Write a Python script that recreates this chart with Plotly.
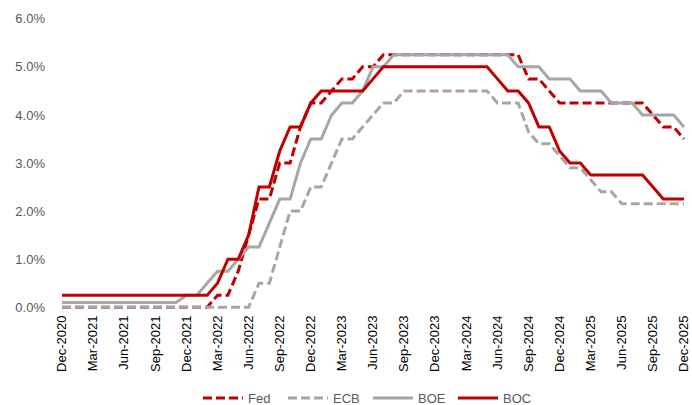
import pandas as pd
import plotly.graph_objects as go

# Month-end policy rates, Dec-2020 .. Dec-2025 (61 months)
months = [d.strftime("%b-%Y") for d in pd.date_range("2020-12-01", "2025-12-01", freq="MS")]

fed = ([0.0] * 15 +
       [0.25, 0.25, 0.75, 1.5, 2.25, 2.25, 3.0, 3.0, 3.75, 4.25, 4.25, 4.5, 4.75, 4.75, 5.0, 5.0] +
       [5.25] * 14 +
       [4.75, 4.75, 4.5] +
       [4.25] * 9 +
       [4.0, 3.75, 3.75, 3.5])

ecb = ([0.0] * 19 +
       [0.5, 0.5, 1.25, 2.0, 2.0, 2.5, 2.5, 3.0, 3.5, 3.5, 3.75, 4.0, 4.25, 4.25] +
       [4.5] * 9 +
       [4.25] * 3 +
       [3.65, 3.4, 3.4, 3.15, 2.9, 2.9, 2.65, 2.4, 2.4] +
       [2.15] * 7)

boe = ([0.1] * 12 +
       [0.25, 0.25, 0.5, 0.75, 0.75, 1.0, 1.25, 1.25, 1.75, 2.25, 2.25, 3.0, 3.5, 3.5, 4.0, 4.25, 4.25, 4.5, 5.0, 5.0] +
       [5.25] * 12 +
       [5.0] * 3 + [4.75] * 3 + [4.5] * 3 + [4.25] * 3 + [4.0] * 4 + [3.75])

boc = ([0.25] * 15 +
       [0.5, 1.0, 1.0, 1.5, 2.5, 2.5, 3.25, 3.75, 3.75, 4.25, 4.5] +
       [4.5] * 4 +
       [4.75] +
       [5.0] * 11 +
       [4.75, 4.5, 4.5, 4.25, 3.75, 3.75, 3.25, 3.0, 3.0] +
       [2.75] * 6 +
       [2.5, 2.25, 2.25, 2.25])

tick_labels = ["Dec-2020", "Mar-2021", "Jun-2021", "Sep-2021", "Dec-2021", "Mar-2022", "Jun-2022",
               "Sep-2022", "Dec-2022", "Mar-2023", "Jun-2023", "Sep-2023", "Dec-2023", "Mar-2024",
               "Jun-2024", "Sep-2024", "Dec-2024", "Mar-2025", "Jun-2025", "Sep-2025", "Dec-2025"]
y_ticks = [0, 1, 2, 3, 4, 5, 6]

RED = "#C00000"
GRAY = "#A6A6A6"
TXT = "#595959"
FONT = "Liberation Sans, Arial, sans-serif"

fig = go.Figure()
fig.add_trace(go.Scatter(x=months, y=fed, name="Fed", mode="lines",
                         line=dict(color=RED, width=3, dash="9px,4px")))
fig.add_trace(go.Scatter(x=months, y=ecb, name="ECB", mode="lines",
                         line=dict(color=GRAY, width=3, dash="9px,4px")))
fig.add_trace(go.Scatter(x=months, y=boe, name="BOE", mode="lines",
                         line=dict(color=GRAY, width=3)))
fig.add_trace(go.Scatter(x=months, y=boc, name="BOC", mode="lines",
                         line=dict(color=RED, width=3)))

fig.update_layout(
    width=692, height=405,
    margin=dict(l=61, r=0, t=14, b=93),
    paper_bgcolor="white", plot_bgcolor="white",
    font=dict(family=FONT, size=13, color=TXT),
    showlegend=True,
    legend=dict(orientation="h", xref="container", yref="container",
                x=198 / 692, y=1 - 398 / 405, xanchor="left", yanchor="middle",
                entrywidth=30, entrywidthmode="pixels",
                font=dict(family=FONT, size=13, color=TXT), itemwidth=40),
)
fig.update_xaxes(type="category", range=[-0.1, 60.77], tickmode="array",
                 tickvals=tick_labels, ticktext=tick_labels, tickangle=-90,
                 showgrid=False, zeroline=False, showline=False, ticks="",
                 tickfont=dict(family=FONT, size=13, color="#000000"))
fig.update_yaxes(range=[-0.1, 6.1], tickvals=y_ticks,
                 ticktext=[f"{v:.1f}%" for v in y_ticks],
                 showgrid=False, zeroline=False, showline=False, ticks="",
                 ticklabelstandoff=15,
                 tickfont=dict(family=FONT, size=13, color=TXT))

fig.write_html("out.html", config={"displayModeBar": False},
               post_script="document.body.style.margin='0';document.body.style.overflow='hidden';")
